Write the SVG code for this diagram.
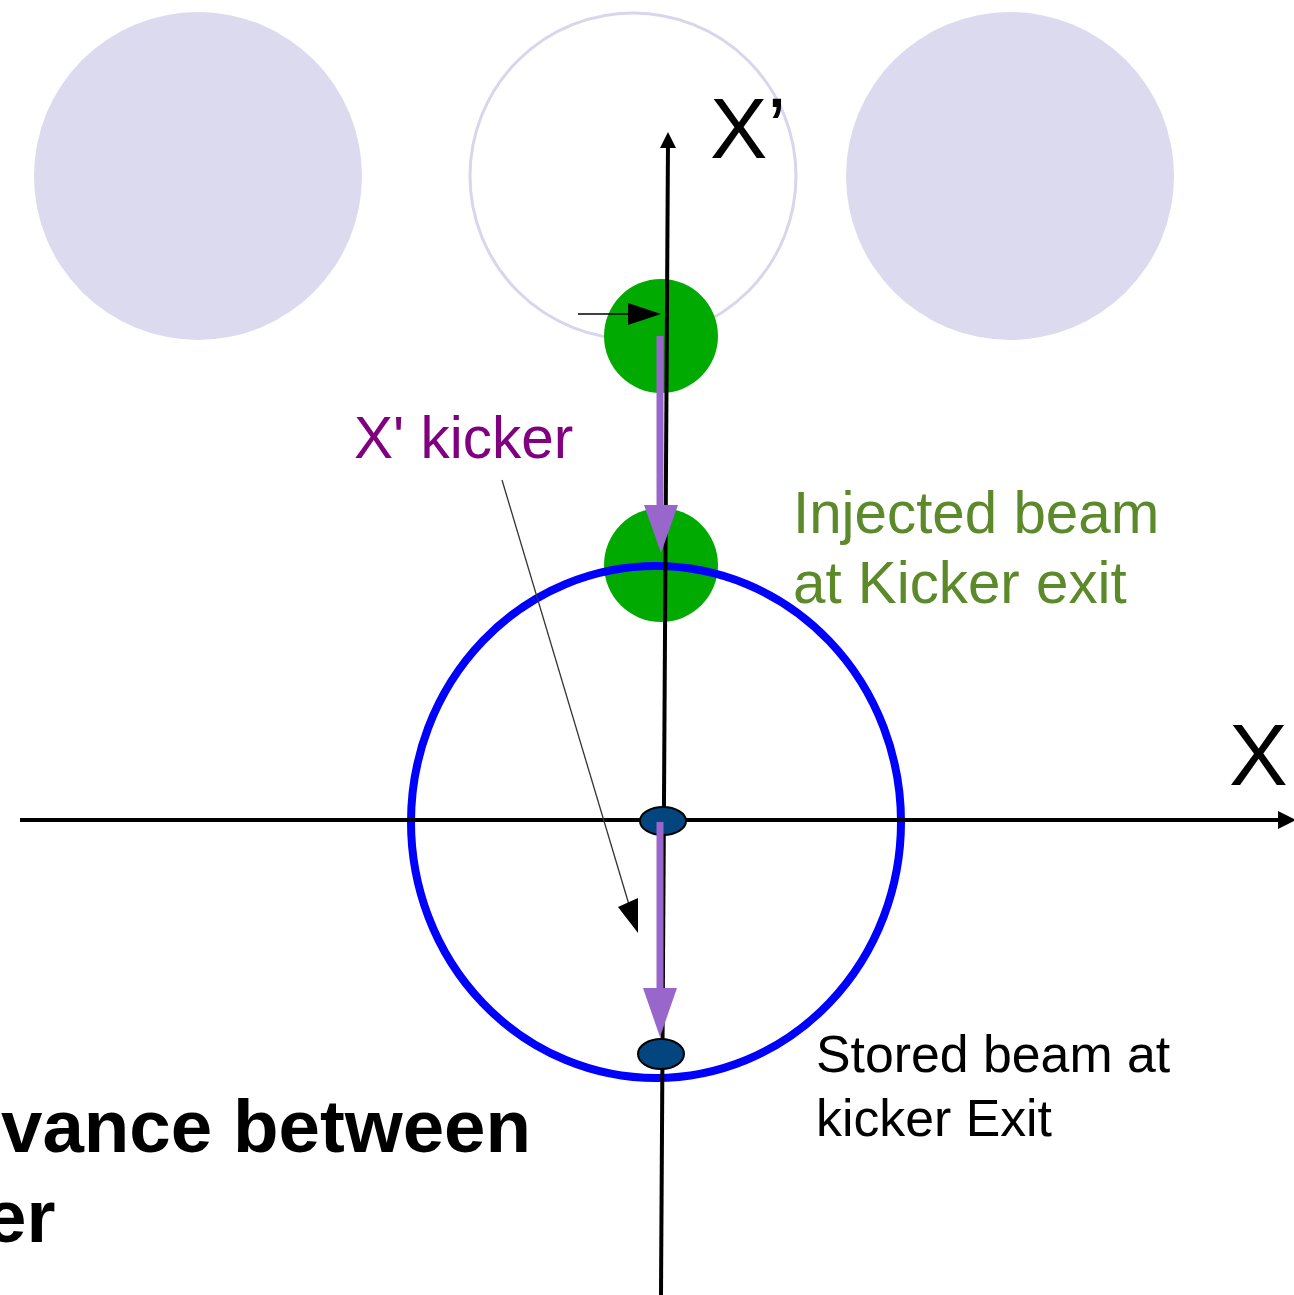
<svg xmlns="http://www.w3.org/2000/svg" width="1294" height="1295" viewBox="0 0 1294 1295">
<style>
.lav{fill:#dcdaee}
.axis{stroke:#000;stroke-width:4;fill:none}
.green{fill:#00aa00}
.dot{fill:#02457f;stroke:#000;stroke-width:2}
.purple{stroke:#9966cc;stroke-width:7;fill:none}
.t{font-family:"Liberation Sans",Arial,sans-serif}
</style>
<g id="phase-circles">
<circle class="lav" cx="198" cy="176" r="164"/>
<circle cx="633" cy="176" r="163" fill="none" stroke="#d8d6ec" stroke-width="3"/>
<circle class="lav" cx="1010" cy="176" r="164"/>
</g>
<g id="injected-beam-1"><circle class="green" cx="661" cy="336" r="57"/></g>
<g id="injected-beam-2"><circle class="green" cx="661" cy="565" r="57"/></g>
<g id="stored-ellipse">
<ellipse cx="656" cy="822" rx="245" ry="256" fill="none" stroke="#0000ff" stroke-width="8"/>
</g>
<g id="connectors">
<line class="axis" x1="661" y1="1295" x2="668" y2="140"/>
<path d="M668,132 L660,148 L676,148 Z" fill="#000"/>
<line class="axis" x1="20" y1="820" x2="1280" y2="820"/>
<path d="M1296,820 L1278,811 L1278,829 Z" fill="#000"/>
<line x1="578" y1="314" x2="632" y2="314" stroke="#000" stroke-width="1.5"/>
<path d="M661,314 L628,303 L628,325 Z" fill="#000"/>
<line class="purple" x1="660" y1="336" x2="660" y2="510"/>
<path d="M661,553 L644,505 L678,505 Z" fill="#9966cc"/>
<line x1="502" y1="480" x2="630" y2="908" stroke="#333" stroke-width="1.3"/>
<path d="M638,933 L618,907 L638,898 Z" fill="#000"/>
</g>
<g id="stored-beam-center"><ellipse class="dot" cx="663" cy="821" rx="23" ry="14"/></g>
<g id="kick-arrow-2">
<line class="purple" x1="660" y1="822" x2="660" y2="992"/>
<path d="M660,1037 L643,988 L677,988 Z" fill="#9966cc"/>
</g>
<g id="stored-beam-exit"><ellipse class="dot" cx="661" cy="1054" rx="23" ry="15"/></g>
<g id="labels" class="t">
<text x="710" y="158" font-size="86" fill="#000">X’</text>
<text x="1229" y="785" font-size="88" fill="#000">X</text>
<text x="354" y="458" font-size="58.5" fill="#800080">X' kicker</text>
<text x="793" y="533" font-size="58.3" fill="#5c8a2a">Injected beam</text>
<text x="793" y="603" font-size="58.3" fill="#5c8a2a">at Kicker exit</text>
<text x="816" y="1072" font-size="51.8" fill="#000">Stored beam at</text>
<text x="816" y="1136" font-size="51.8" fill="#000">kicker Exit</text>
<text x="1" y="1152" font-size="74.5" font-weight="bold" fill="#000">vance between</text>
<text x="-15" y="1242" font-size="74.5" font-weight="bold" fill="#000">er</text>
</g>
</svg>
